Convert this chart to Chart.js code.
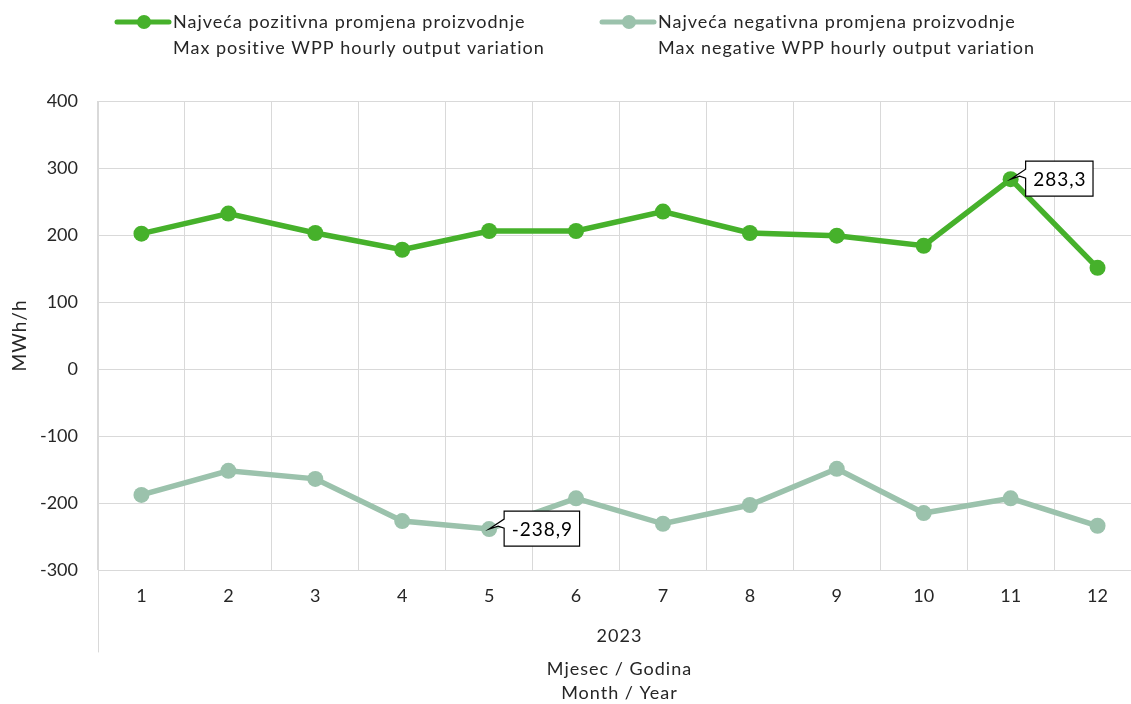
<!DOCTYPE html>
<html>
<head>
<meta charset="utf-8">
<script src="https://cdn.jsdelivr.net/npm/chart.js@4/dist/chart.umd.min.js"></script>
<style>
html,body{margin:0;padding:0;overflow:hidden;background:#fff;width:1131px;height:704px;}
#wrap{width:1149px;height:704px;}
</style>
</head>
<body>
<div id="wrap"><canvas id="c" width="1149" height="704"></canvas></div>
<script>
const months = ['1','2','3','4','5','6','7','8','9','10','11','12'];
const positiveValues = [202, 232, 203, 178, 206, 206, 235, 203, 199, 184, 283.3, 151];
const negativeValues = [-188, -152, -164, -227, -238.9, -193, -231, -203, -149, -215, -193, -234];
const positiveLabel = ['Najveća pozitivna promjena proizvodnje', 'Max positive WPP hourly output variation'];
const negativeLabel = ['Najveća negativna promjena proizvodnje', 'Max negative WPP hourly output variation'];
const yearLabel = '2023';
const xTitle = ['Mjesec / Godina', 'Month / Year'];
const yTitle = 'MWh/h';
const calloutPos = {dataset: 0, index: 10, text: '283,3'};
const calloutNeg = {dataset: 1, index: 4, text: '-238,9'};

const GREEN = '#46B12B';
const SAGE = '#9BC2AC';
const GRID = '#d9d9d9';
const TXT = '#262626';
const FONT = 'Lato, "Open Sans", sans-serif';

const extras = {
  id: 'extras',
  afterDatasetsDraw(chart) {
    const ctx = chart.ctx;
    [calloutPos, calloutNeg].forEach(c => {
      const el = chart.getDatasetMeta(c.dataset).data[c.index];
      const px = el.x, py = el.y;
      ctx.save();
      ctx.font = '19px ' + FONT;
      ctx.letterSpacing = '1px';
      const tw = ctx.measureText(c.text).width;
      const w = tw + 14, h = 35;
      const left = px + 15, top = py - 18;
      ctx.beginPath();
      ctx.moveTo(left, top);
      ctx.lineTo(left + w, top);
      ctx.lineTo(left + w, top + h);
      ctx.lineTo(left, top + h);
      ctx.lineTo(left, top + 17);
      ctx.lineTo(left - 6, top + 15);
      ctx.lineTo(px, py);
      ctx.lineTo(left, top + 8);
      ctx.closePath();
      ctx.fillStyle = '#fff';
      ctx.fill();
      ctx.strokeStyle = '#000';
      ctx.lineWidth = 1.2;
      ctx.stroke();
      ctx.fillStyle = '#000';
      ctx.textAlign = 'center';
      ctx.textBaseline = 'middle';
      ctx.fillText(c.text, left + w / 2 + 0.5, top + h / 2 + 1);
      ctx.restore();
    });
  },
  afterDraw(chart) {
    const ctx = chart.ctx;
    const area = chart.chartArea;
    const cx = (area.left + area.right) / 2;
    ctx.save();
    ctx.letterSpacing = '1px';
    // legend
    const items = [
      {x: 117, color: GREEN, label: positiveLabel},
      {x: 602, color: SAGE, label: negativeLabel}
    ];
    items.forEach(it => {
      ctx.strokeStyle = it.color;
      ctx.lineWidth = 5;
      ctx.lineCap = 'round';
      ctx.beginPath();
      ctx.moveTo(it.x, 22);
      ctx.lineTo(it.x + 52, 22);
      ctx.stroke();
      ctx.fillStyle = it.color;
      ctx.beginPath();
      ctx.arc(it.x + 27, 22, 7, 0, Math.PI * 2);
      ctx.fill();
      ctx.fillStyle = TXT;
      ctx.font = '18px ' + FONT;
      ctx.textAlign = 'left';
      ctx.textBaseline = 'middle';
      ctx.fillText(it.label[0], it.x + 56, 22);
      ctx.fillText(it.label[1], it.x + 56, 48);
    });
    // y title
    ctx.save();
    ctx.translate(20, (area.top + area.bottom) / 2);
    ctx.rotate(-Math.PI / 2);
    ctx.textAlign = 'center';
    ctx.textBaseline = 'middle';
    ctx.font = '19px ' + FONT;
    ctx.fillStyle = TXT;
    ctx.fillText(yTitle, 0, 0);
    ctx.restore();
    // multi-level separator line
    ctx.strokeStyle = GRID;
    ctx.lineWidth = 1;
    ctx.beginPath();
    ctx.moveTo(area.left + 0.5, area.bottom);
    ctx.lineTo(area.left + 0.5, 652);
    ctx.stroke();
    // year & x title
    ctx.fillStyle = TXT;
    ctx.font = '18px ' + FONT;
    ctx.textAlign = 'center';
    ctx.textBaseline = 'middle';
    ctx.fillText(yearLabel, cx, 636);
    ctx.fillText(xTitle[0], cx, 669);
    ctx.fillText(xTitle[1], cx, 693);
    ctx.restore();
  }
};

new Chart(document.getElementById('c'), {
  type: 'line',
  data: {
    labels: months,
    datasets: [
      {label: positiveLabel.join(' '), data: positiveValues, borderColor: GREEN, backgroundColor: GREEN,
       borderWidth: 5.5, pointRadius: 8, pointBorderWidth: 0, pointHoverRadius: 8, tension: 0},
      {label: negativeLabel.join(' '), data: negativeValues, borderColor: SAGE, backgroundColor: SAGE,
       borderWidth: 5.5, pointRadius: 8, pointBorderWidth: 0, pointHoverRadius: 8, tension: 0}
    ]
  },
  options: {
    responsive: false,
    devicePixelRatio: 1,
    animation: false,
    events: [],
    layout: {padding: {top: 101, left: 0, right: 0, bottom: 0}},
    plugins: {legend: {display: false}, tooltip: {enabled: false}},
    scales: {
      x: {
        type: 'category',
        offset: true,
        grid: {offset: true, color: GRID, lineWidth: 1, drawTicks: false},
        border: {color: GRID},
        ticks: {color: TXT, font: {family: FONT, size: 18}, padding: 15, maxRotation: 0},
        afterFit(s) { s.height = 134; }
      },
      y: {
        min: -300, max: 400,
        ticks: {stepSize: 100, color: TXT, font: {family: FONT, size: 18}, padding: 20},
        grid: {color: GRID, lineWidth: 1, drawTicks: false},
        border: {color: GRID},
        afterFit(s) { s.width = 98; }
      }
    }
  },
  plugins: [extras]
});
</script>
</body>
</html>
